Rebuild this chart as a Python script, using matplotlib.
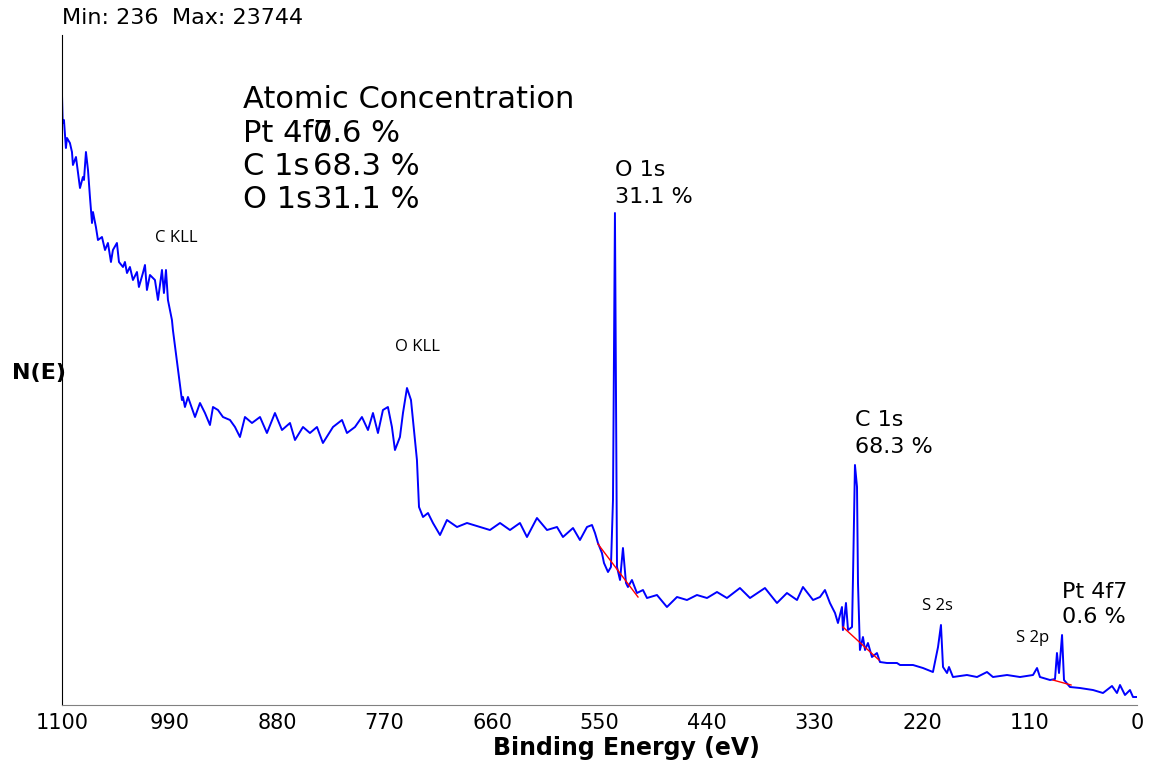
import matplotlib.pyplot as plt

# survey spectrum (binding energy in eV, counts)
binding_energy = [
    1100.0, 1099.3, 1098.0, 1096.0, 1094.9, 1091.9, 1089.8, 1088.8, 1085.7, 1083.7,
    1081.6, 1078.6, 1077.5, 1075.5, 1073.4, 1071.4, 1069.3, 1068.3, 1065.3, 1063.2,
    1059.1, 1056.0, 1053.0, 1049.9, 1047.9, 1043.8, 1041.7, 1037.6, 1035.6, 1033.5,
    1030.5, 1027.4, 1023.3, 1021.3, 1017.2, 1015.1, 1013.1, 1010.0, 1004.9, 1001.8,
    997.7, 995.7, 993.6, 991.6, 989.5, 987.5, 986.5, 981.3, 977.3, 976.2,
    974.2, 971.1, 963.9, 958.8, 953.7, 948.6, 945.5, 940.4, 935.3, 928.1,
    923.0, 917.9, 912.8, 905.6, 897.4, 890.3, 882.1, 874.9, 866.7, 861.6,
    853.4, 846.3, 839.1, 833.0, 822.7, 813.5, 808.4, 800.2, 793.1, 786.9,
    781.8, 776.7, 771.6, 766.5, 762.4, 759.3, 754.2, 751.1, 747.0, 742.9,
    740.9, 736.8, 734.7, 730.6, 725.5, 720.4, 713.2, 706.1, 695.8, 685.6,
    672.3, 662.1, 651.8, 641.6, 631.4, 624.2, 614.0, 603.7, 593.5, 587.4,
    577.1, 570.0, 562.8, 557.7, 554.6, 551.6, 547.5, 545.4, 541.3, 538.3,
    536.2, 534.2, 532.1, 529.0, 526.0, 522.9, 520.9, 516.8, 511.7, 505.5,
    501.4, 491.2, 481.0, 470.7, 460.5, 450.3, 440.0, 429.8, 419.6, 406.3,
    396.0, 380.7, 368.4, 358.2, 347.9, 341.8, 331.5, 324.4, 319.3, 314.2,
    309.0, 306.0, 301.9, 300.9, 297.8, 295.7, 291.6, 290.6, 288.6, 286.5,
    285.5, 283.5, 280.4, 278.3, 275.3, 271.2, 266.1, 263.0, 255.8, 245.6,
    242.5, 229.2, 219.0, 208.8, 203.6, 200.6, 198.5, 194.4, 192.4, 188.3,
    174.0, 163.7, 153.5, 147.4, 133.0, 119.7, 106.4, 102.3, 99.3, 89.0,
    83.9, 81.9, 79.8, 76.7, 74.7, 68.6, 58.3, 45.0, 34.8, 25.6,
    20.5, 17.4, 12.3, 7.2, 4.1, 0.0,
]
counts = [
    23744, 22651, 22768, 21674, 22065, 21870, 21518, 21011, 21323, 20737,
    20112, 20542, 20425, 21518, 20815, 19761, 18746, 19175, 18590, 18082,
    18199, 17691, 17965, 17223, 17691, 17965, 17223, 17028, 17223, 16793,
    17028, 16520, 16832, 16247, 16793, 17106, 16129, 16715, 16520, 15739,
    16910, 16012, 16910, 15739, 15348, 14958, 14567, 13005, 11834, 11951,
    11561, 11951, 11170, 11717, 11326, 10858, 11561, 11443, 11170, 11053,
    10780, 10389, 11170, 10936, 11170, 10545, 11326, 10662, 10936, 10272,
    10780, 10545, 10780, 10155, 10780, 11053, 10545, 10780, 11170, 10662,
    11326, 10545, 11443, 11561, 10780, 9881, 10389, 11326, 12302, 11834,
    11053, 9491, 7656, 7265, 7421, 7031, 6562, 7148, 6875, 7031,
    6875, 6757, 7031, 6757, 7031, 6484, 7226, 6757, 6875, 6484,
    6835, 6367, 6875, 6953, 6640, 6250, 5859, 5469, 5117, 5313,
    7929, 19136, 5313, 4805, 6054, 4688, 4532, 4805, 4297, 4414,
    4102, 4219, 3751, 4141, 4024, 4219, 4102, 4336, 4102, 4492,
    4102, 4492, 3907, 4297, 4024, 4532, 4024, 4141, 4414, 3907,
    3516, 3126, 3751, 2852, 3907, 2852, 2970, 4922, 9296, 8437,
    4688, 2071, 2579, 2071, 2345, 1798, 1954, 1603, 1564, 1564,
    1486, 1486, 1368, 1212, 2189, 3048, 1408, 1173, 1408, 1017,
    1095, 1017, 1212, 1017, 1095, 1017, 1095, 1368, 1017, 900,
    939, 1954, 1173, 2657, 900, 627, 587, 509, 392, 666,
    392, 705, 314, 509, 236, 236,
]

# linear backgrounds under the quantified peaks
bg_o1s_energy, bg_o1s_counts = [551.6, 510.6], [6211, 4141]
bg_c1s_energy, bg_c1s_counts = [300.9, 264.0], [2970, 1681]
bg_pt_energy, bg_pt_counts = [86.0, 67.5], [900, 705]

tick_values = [1100, 990, 880, 770, 660, 550, 440, 330, 220, 110, 0]
tick_labels = [str(v) for v in tick_values]

quant_names = ['Pt 4f7', 'C 1s', 'O 1s']
quant_values = ['0.6 %', '68.3 %', '31.1 %']

W, H = 1152, 765
fig = plt.figure(figsize=(W / 100, H / 100), dpi=100)
ax = fig.add_axes([62 / W, 1 - 705 / H, 1075 / W, 670 / H])

ax.plot(binding_energy, counts, color='#0000ff', lw=1.4)
for e, c in [(bg_o1s_energy, bg_o1s_counts), (bg_c1s_energy, bg_c1s_counts),
             (bg_pt_energy, bg_pt_counts)]:
    ax.plot(e, c, color='red', lw=1)

ax.set_xlim(1100, 0)
ax.set_ylim(-76, 26087)
ax.set_xticks(tick_values)
ax.set_xticklabels(tick_labels, fontsize=15)
ax.tick_params(axis='x', length=0, pad=6)
ax.set_yticks([])
ax.spines['top'].set_visible(False)
ax.spines['right'].set_visible(False)
ax.spines['bottom'].set_color('#808080')
ax.spines['left'].set_color('black')


def px_text(x, y, s, **kw):
    fig.text(x / W, 1 - y / H, s, va='center', **kw)


px_text(626, 748, 'Binding Energy (eV)', ha='center', fontsize=17, fontweight='bold')
px_text(12, 373, 'N(E)', fontsize=16, fontweight='bold', zorder=5)

px_text(62, 18, 'Min: 236', fontsize=16)
px_text(172, 18, 'Max: 23744', fontsize=16)

px_text(243, 100, 'Atomic Concentration', fontsize=22)
for i, (name, val) in enumerate(zip(quant_names, quant_values)):
    y = 133 + i * 33.5
    px_text(243, y, name, fontsize=22)
    px_text(313, y, val, fontsize=22)

peak_fs = 16
px_text(615, 170, 'O 1s', fontsize=peak_fs)
px_text(615, 197, '31.1 %', fontsize=peak_fs)
px_text(855, 420, 'C 1s', fontsize=peak_fs)
px_text(855, 447, '68.3 %', fontsize=peak_fs)
px_text(1062, 592, 'Pt 4f7', fontsize=peak_fs)
px_text(1062, 617, '0.6 %', fontsize=peak_fs)

auger_font = dict(fontsize=12, family='Open Sans')
px_text(155, 238, 'C KLL', **auger_font)
px_text(395, 347, 'O KLL', **auger_font)
px_text(922, 606, 'S 2s', **auger_font)
px_text(1016, 638, 'S 2p', **auger_font)

fig.savefig('out.png', dpi=100)
